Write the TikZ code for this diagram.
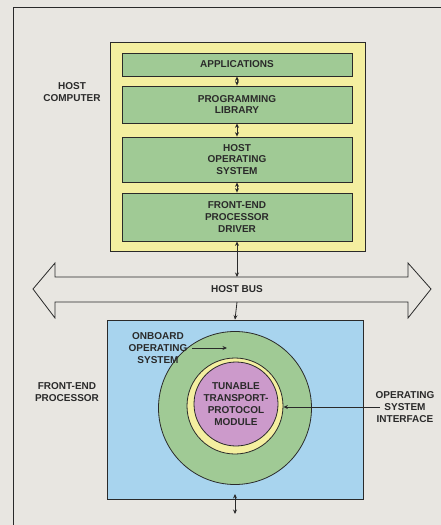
\documentclass[tikz,border=0pt]{standalone}
\usepackage{fontspec}
\setmainfont{Liberation Sans}
\usetikzlibrary{arrows.meta}
\definecolor{bgc}{HTML}{E8E6E1}
\definecolor{yel}{HTML}{F4EFA0}
\definecolor{grn}{HTML}{A0CA95}
\definecolor{blu}{HTML}{A8D4EE}
\definecolor{pur}{HTML}{CC9ACB}
\definecolor{ink}{HTML}{2A2A2A}
\begin{document}
\begin{tikzpicture}[x=1pt,y=-1pt,
  >={Stealth[length=4.5pt,width=4pt]},
  lbl/.style={font=\fontsize{10}{11.8}\selectfont\bfseries, text=ink, align=center, inner sep=0pt},
  layer/.style={draw=ink, line width=0.8pt, fill=grn, minimum width=230pt, inner sep=0pt, lbl},
  conn/.style={draw=ink, line width=0.8pt}]
\useasboundingbox (0,0) rectangle (441,525);
\fill[bgc] (0,0) rectangle (441,525);
\draw[conn] (13,525) -- (13,7) -- (441,7);
% host computer
\node[draw=ink, line width=0.8pt, fill=yel, minimum width=255pt, minimum height=209pt] (host) at (237.5,146.5) {};
\node[layer, minimum height=23pt] (app) at (237,64.5) {APPLICATIONS};
\node[layer, minimum height=37pt] (lib) at (237,104.5) {PROGRAMMING\\LIBRARY};
\node[layer, minimum height=45pt] (hos) at (237,159.5) {HOST\\OPERATING\\SYSTEM};
\node[layer, minimum height=48pt] (drv) at (237,217) {FRONT-END\\PROCESSOR\\DRIVER};
\node[lbl] (hostlbl) at (72,92) {HOST\\COMPUTER};
\draw[conn, <->] (app.south) -- (lib.north);
\draw[conn, <->] (lib.south) -- (hos.north);
\draw[conn, <->] (hos.south) -- (drv.north);
% host bus
\node[lbl] (bus) at (237,289) {HOST BUS};
\coordinate (bustop) at (237,277);
\coordinate (busbot) at (237,302);
\draw[conn, line join=miter] (55,277) -- (408,277) -- (408,263) -- (431,289) -- (408,318) -- (408,302)
  -- (55,302) -- (55,318) -- (33,289) -- (55,263) -- cycle;
\draw[conn, <->] (drv.south) -- (bustop);
% front-end processor
\node[draw=ink, line width=0.8pt, fill=blu, minimum width=256pt, minimum height=179pt] (fep) at (235,409.5) {};
\draw[conn, ->] (busbot) -- (fep.north);
\node[circle, draw=ink, line width=0.8pt, fill=grn, minimum size=153pt, inner sep=0pt] (gc) at (235,408) {};
\node[circle, draw=ink, line width=0.8pt, fill=yel, minimum size=96pt, inner sep=0pt] (yc) at (235,406) {};
\node[circle, draw=ink, line width=0.8pt, fill=pur, minimum size=84pt, inner sep=0pt, lbl] (pc) at (236,404) {TUNABLE\\TRANSPORT-\\PROTOCOL\\MODULE};
\node[lbl] (onb) at (158,348) {ONBOARD\\OPERATING\\SYSTEM};
\coordinate (onbstart) at (192,348);
\coordinate (onbtip) at (227,348);
\draw[conn, ->] (onbstart) -- (onbtip);
\node[lbl] (feplbl) at (67,392) {FRONT-END\\PROCESSOR};
\node[lbl] (osi) at (405,407) {OPERATING\\SYSTEM\\INTERFACE};
\coordinate (osistart) at (380,407);
\draw[conn, ->] (osistart) -- (osistart -| yc.east);
\coordinate (outtop) at (235,494);
\coordinate (outbot) at (235,514);
\draw[conn, <->] (outtop) -- (outbot);
\end{tikzpicture}
\end{document}
